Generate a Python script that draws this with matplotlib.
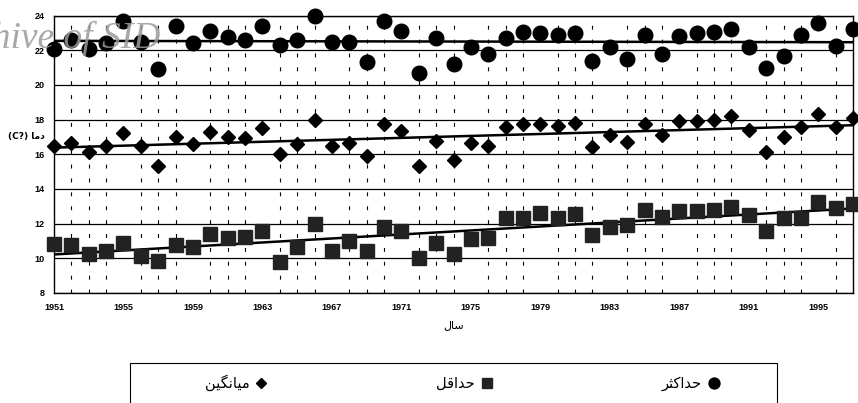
import numpy as np
import matplotlib
matplotlib.use("Agg")
import matplotlib.pyplot as plt

# yearly temperature series
years = np.arange(1951, 1998)
t_max = [22.1, 22.6, 22.1, 22.4, 23.7, 22.5, 20.9, 23.4, 22.4, 23.1, 22.75, 22.6, 23.4, 22.3, 22.6,
         24.0, 22.45, 22.45, 21.3, 23.7, 23.1, 20.7, 22.7, 21.2, 22.2, 21.8, 22.7, 23.05, 23.0, 22.9, 23.0,
         21.4, 22.2, 21.5, 22.9, 21.8, 22.8, 23.0, 23.05, 23.25, 22.2, 20.95, 21.65, 22.9, 23.55, 22.25, 23.2]
t_mean = [16.45, 16.65, 16.15, 16.5, 17.2, 16.5, 15.3, 17.0, 16.6, 17.3, 17.0, 16.95, 17.5, 16.0, 16.6,
          18.0, 16.45, 16.67, 15.9, 17.75, 17.35, 15.3, 16.75, 15.7, 16.65, 16.5, 17.6, 17.75, 17.75, 17.65, 17.8,
          16.4, 17.1, 16.7, 17.75, 17.1, 17.9, 17.9, 18.0, 18.2, 17.4, 16.15, 17.0, 17.55, 18.35, 17.6, 18.1]
t_min = [10.85, 10.75, 10.25, 10.45, 10.9, 10.15, 9.85, 10.75, 10.65, 11.4, 11.2, 11.25, 11.6, 9.8, 10.65,
         12.0, 10.4, 11.0, 10.4, 11.8, 11.6, 10.0, 10.9, 10.25, 11.1, 11.2, 12.35, 12.3, 12.6, 12.35, 12.55,
         11.35, 11.8, 11.9, 12.8, 12.4, 12.75, 12.75, 12.8, 12.95, 12.5, 11.55, 12.3, 12.35, 13.25, 12.9, 13.15]
xtick_years = [1951, 1955, 1959, 1963, 1967, 1971, 1975, 1979, 1983, 1987, 1991, 1995]
yticks = [8, 10, 12, 14, 16, 18, 20, 22, 24]

# matplotlib has no arabic shaping: pick presentation forms and reverse by hand
# (isolated, final, initial, medial); None = letter does not join forward
FORMS = {
    'ا': ('\uFE8D', '\uFE8E', None, None),
    'د': ('\uFEA9', '\uFEAA', None, None),
    'ر': ('\uFEAD', '\uFEAE', None, None),
    'ح': ('\uFEA1', '\uFEA2', '\uFEA3', '\uFEA4'),
    'ث': ('\uFE99', '\uFE9A', '\uFE9B', '\uFE9C'),
    'ق': ('\uFED5', '\uFED6', '\uFED7', '\uFED8'),
    'ل': ('\uFEDD', '\uFEDE', '\uFEDF', '\uFEE0'),
    'م': ('\uFEE1', '\uFEE2', '\uFEE3', '\uFEE4'),
    'ن': ('\uFEE5', '\uFEE6', '\uFEE7', '\uFEE8'),
    'س': ('\uFEB1', '\uFEB2', '\uFEB3', '\uFEB4'),
    'ک': ('\uFB8E', '\uFB8F', '\uFB90', '\uFB91'),
    'گ': ('\uFB92', '\uFB93', '\uFB94', '\uFB95'),
    'ی': ('\uFBFC', '\uFBFD', '\uFBFE', '\uFBFF'),
}


def fa(word):
    out = []
    for i, c in enumerate(word):
        f = FORMS.get(c)
        if f is None:
            out.append(c)
            continue
        prev = word[i - 1] if i > 0 else None
        nxt = word[i + 1] if i + 1 < len(word) else None
        jp = prev in FORMS and FORMS[prev][2] is not None
        jn = nxt in FORMS and f[2] is not None
        if jp and jn:
            out.append(f[3])
        elif jp:
            out.append(f[1])
        elif jn:
            out.append(f[2])
        else:
            out.append(f[0])
    return ''.join(reversed(out))


W, H = 858, 403
fig = plt.figure(figsize=(W / 100, H / 100), dpi=100)
ax = fig.add_axes([54 / W, 1 - 293 / H, (853 - 54) / W, (293 - 15.6) / H])

num_font = dict(family='Liberation Sans', fontsize=6.5, fontweight='bold')

ax.set_xlim(1951, 1997)
ax.set_ylim(8, 24)
ax.set_xticks(xtick_years)
ax.set_xticklabels([str(y) for y in xtick_years], **num_font)
ax.set_yticks(yticks)
ax.set_yticklabels([str(v) for v in yticks], **num_font)
ax.set_xticks(years, minor=True)
ax.tick_params(axis='both', which='both', length=0, pad=7)

# grid: solid horizontals, short dashes for every year
ax.grid(axis='y', which='major', color='black', lw=0.9)
ax.grid(axis='x', which='minor', color='black', lw=0.8, dashes=(3.5, 9))
ax.set_axisbelow(True)
for s in ax.spines.values():
    s.set_color('black')
    s.set_linewidth(1.0)

# series
l_max, = ax.plot(years, t_max, 'o', color='black', ms=10.5, clip_on=False, zorder=4)
l_min, = ax.plot(years, t_min, 's', color='#222222', ms=10, clip_on=False, zorder=4)
l_mean, = ax.plot(years, t_mean, 'D', color='black', ms=7.3, clip_on=False, zorder=4)

# linear trends
for vals in (t_max, t_mean, t_min):
    k, b = np.polyfit(years, vals, 1)
    ax.plot(years, k * years + b, color='black', lw=1.8, zorder=3)

ax.set_xlabel(fa('سال'), family='DejaVu Sans', fontsize=8, labelpad=6)
fig.text(8 / W, 1 - 136 / H, '(C?) ' + fa('دما'), family='DejaVu Sans', fontsize=6.5,
         fontweight='bold', va='center', ha='left')

# scanning watermark
fig.text(160 / W, 1 - 38 / H, 'Archive of SID', family='Liberation Serif', style='italic',
         fontsize=27, color='#9a9a9a', alpha=0.85, ha='right', va='center', zorder=10)

# legend box, cut by the lower edge of the page
fig.add_artist(plt.Rectangle((130 / W, -0.05), (777 - 130) / W, (403 - 363) / H + 0.05,
                             transform=fig.transFigure, fill=False, lw=0.8, ec='black'))
fig.legend([l_mean, l_min, l_max], [fa('میانگین'), fa('حداقل'), fa('حداکثر')],
           loc='center', bbox_to_anchor=(463 / W, 1 - 383 / H), ncol=3, markerfirst=False,
           frameon=False, markerscale=0.75, handlelength=1.0, handletextpad=0.3,
           columnspacing=11.5, prop=dict(family='DejaVu Sans', size=10.5))

fig.savefig('out.png', dpi=100)
